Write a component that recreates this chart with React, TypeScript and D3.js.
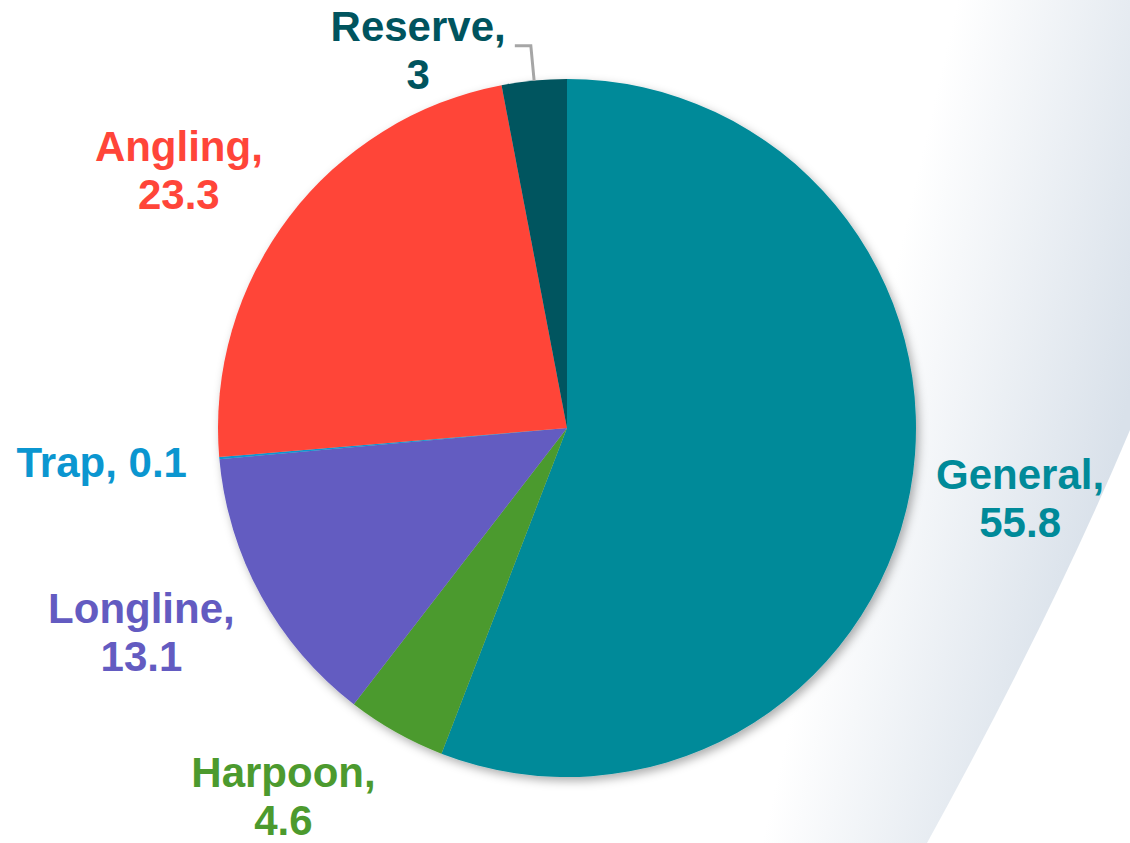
import { useEffect, useRef } from "react";
import * as d3 from "d3";

const CATEGORIES = ["General", "Harpoon", "Longline", "Trap", "Angling", "Reserve"];
const VALUES = [55.8, 4.6, 13.1, 0.1, 23.3, 3];
const LABELS = ["55.8", "4.6", "13.1", "0.1", "23.3", "3"];
const COLORS = ["#008A99", "#4C9A2E", "#635BC1", "#0B96D0", "#FF4539", "#00545E"];

// label nudges off the mid-angle anchor (px), and which labels sit on one line
const LABEL_NUDGE: Record<string, [number, number]> = {
  General: [-5, -15],
  Harpoon: [-55, -38],
  Longline: [-17, -20],
  Trap: [-1, -6],
  Angling: [-17, 24],
  Reserve: [-105, 86],
};
const ONE_LINE = new Set(["Trap"]);

const W = 1130;
const H = 843;
const cx = 567;
const cy = 428;
const R = 349;
const LABEL_R = 466;

export default function App() {
  const ref = useRef<SVGSVGElement | null>(null);

  useEffect(() => {
    const svg = d3.select(ref.current);
    svg.selectAll("*").remove();

    const defs = svg.append("defs");
    const grad = defs
      .append("linearGradient")
      .attr("id", "bg")
      .attr("gradientUnits", "userSpaceOnUse")
      .attr("x1", 860)
      .attr("y1", 420)
      .attr("x2", 1110)
      .attr("y2", 478);
    grad.append("stop").attr("offset", 0).attr("stop-color", "#ffffff");
    grad.append("stop").attr("offset", 1).attr("stop-color", "#d9e1ea");

    const shadow = defs.append("filter").attr("id", "shadow").attr("x", "-20%").attr("y", "-20%").attr("width", "140%").attr("height", "140%");
    shadow
      .append("feDropShadow")
      .attr("dx", 3)
      .attr("dy", 4)
      .attr("stdDeviation", 5)
      .attr("flood-color", "#000")
      .attr("flood-opacity", 0.32);

    // background swoosh
    svg
      .append("path")
      .attr("d", `M0,0 L${W},0 L${W},430 Q1050,620 927,${H} L0,${H} Z`)
      .attr("fill", "url(#bg)");

    const pie = d3
      .pie<number>()
      .sort(null)
      .value((d) => d);
    const arcs = pie(VALUES);
    const arc = d3.arc<d3.PieArcDatum<number>>().innerRadius(0).outerRadius(R);

    const g = svg.append("g").attr("transform", `translate(${cx},${cy})`);
    g.append("g")
      .attr("filter", "url(#shadow)")
      .selectAll("path")
      .data(arcs)
      .join("path")
      .attr("d", arc)
      .attr("fill", (_, i) => COLORS[i]);

    const mid = (a: d3.PieArcDatum<number>) => (a.startAngle + a.endAngle) / 2;

    // leader line for Reserve
    const ri = CATEGORIES.indexOf("Reserve");
    const ra = mid(arcs[ri]);
    const p0: [number, number] = [R * Math.sin(ra), -R * Math.cos(ra)];
    const p1: [number, number] = [384 * Math.sin(ra), -384 * Math.cos(ra)];
    g.append("path")
      .attr("d", d3.line()([p0, p1, [p1[0] - 16, p1[1]]]))
      .attr("fill", "none")
      .attr("stroke", "#a6a6a6")
      .attr("stroke-width", 3);

    arcs.forEach((a, i) => {
      const name = CATEGORIES[i];
      const ang = mid(a);
      const [nx, ny] = LABEL_NUDGE[name];
      const x = LABEL_R * Math.sin(ang) + nx;
      const y = -LABEL_R * Math.cos(ang) + ny;
      const t = g
        .append("text")
        .attr("text-anchor", "middle")
        .attr("font-family", "'Liberation Sans', Arial, sans-serif")
        .attr("font-weight", "bold")
        .attr("font-size", 42)
        .attr("fill", COLORS[i]);
      if (ONE_LINE.has(name)) {
        t.append("tspan").attr("x", x).attr("y", y + 15).text(`${name}, ${LABELS[i]}`);
      } else {
        t.append("tspan").attr("x", x).attr("y", y - 9).text(`${name},`);
        t.append("tspan").attr("x", x).attr("y", y + 39).text(LABELS[i]);
      }
    });
  }, []);

  return (
    <div style={{ position: "absolute", left: 0, top: 0 }}>
      <svg ref={ref} width={W} height={H} style={{ display: "block" }} />
    </div>
  );
}
